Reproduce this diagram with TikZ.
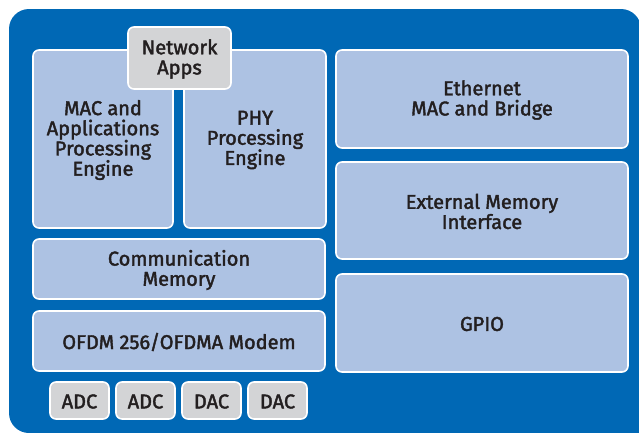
\documentclass[tikz,border=0pt]{standalone}
\usepackage{fontspec}
\setmainfont{Fira Sans}[FakeBold=2]
\definecolor{bgblue}{HTML}{0068B5}
\definecolor{lightbox}{HTML}{ADC2E3}
\definecolor{greybox}{HTML}{D3D4D6}
\definecolor{txt}{HTML}{231F20}
\begin{document}
\begin{tikzpicture}[x=1pt,y=-1pt,
  blk/.style={draw=white, line width=1.6pt, rounded corners=6pt, fill=lightbox},
  gblk/.style={blk, fill=greybox},
  lbl/.style={text=txt, font=\fontsize{20}{20.2}\selectfont, align=center, inner sep=0pt, yshift=-1pt}]
\useasboundingbox (0,0) rectangle (639,432);
\begin{scope}
\clip (0,0) rectangle (639,432);
\fill[bgblue, rounded corners=20pt] (9,9) rectangle (641,433);
\fill[bgblue] (600,400) rectangle (641,433);
\end{scope}
% left column
\draw[blk] (33,50) rectangle (173,228) node[midway, lbl] (mac) {MAC and\\Applications\\Processing\\Engine};
\draw[blk] (184,50) rectangle (326,228) node[midway, lbl] (phy) {PHY\\Processing\\Engine};
\draw[gblk] (128,27) rectangle (231,89) node[midway, lbl] (net) {Network\\Apps};
\draw[blk] (33,239) rectangle (325,299) node[midway, lbl] (cmem) {Communication\\Memory};
\draw[blk] (33,311) rectangle (325,371) node[midway, lbl] (ofdm) {OFDM 256/OFDMA Modem};
\draw[gblk] (50,382) rectangle (109,419) node[midway, lbl] (adc1) {ADC};
\draw[gblk] (116,382) rectangle (175,419) node[midway, lbl] (adc2) {ADC};
\draw[gblk] (182,382) rectangle (241,419) node[midway, lbl] (dac1) {DAC};
\draw[gblk] (248,382) rectangle (307,419) node[midway, lbl] (dac2) {DAC};
% right column
\draw[blk] (336,50) rectangle (628,148) node[midway, lbl] (eth) {Ethernet\\MAC and Bridge};
\draw[blk] (336,162) rectangle (628,259) node[midway, lbl] (emi) {External Memory\\Interface};
\draw[blk] (336,274) rectangle (628,372) node[midway, lbl] (gpio) {GPIO};
\end{tikzpicture}
\end{document}
